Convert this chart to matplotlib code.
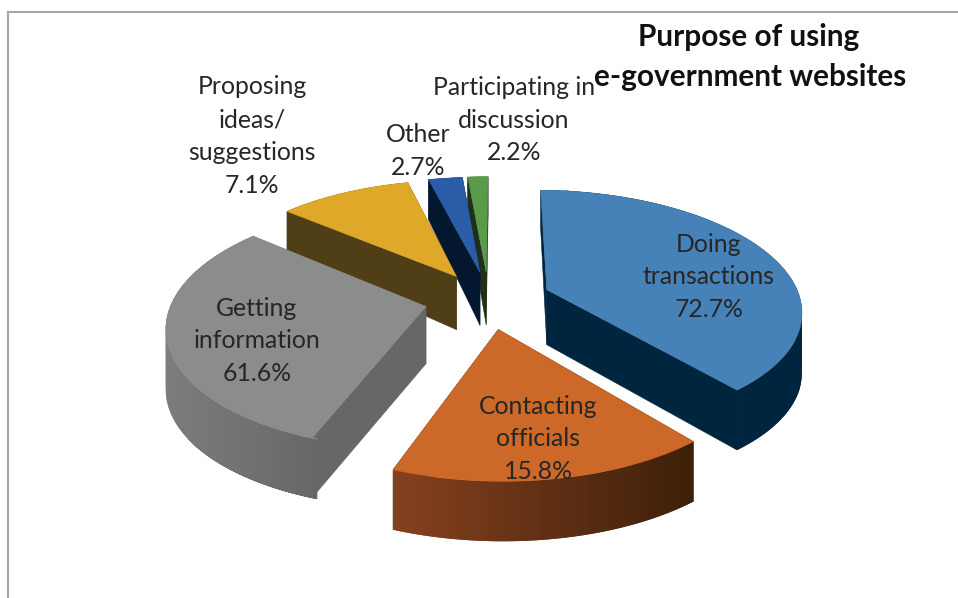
import numpy as np
import matplotlib
matplotlib.use('Agg')
import matplotlib.pyplot as plt
from matplotlib.colors import to_rgb

plt.rcParams['font.family'] = ['Lato', 'DejaVu Sans']

labels = ['Doing\ntransactions', 'Contacting\nofficials', 'Getting\ninformation',
          'Proposing\nideas/\nsuggestions', 'Other', 'Participating in\ndiscussion']
values = [72.7, 15.8, 61.6, 7.1, 2.7, 2.2]
title_lines = ['Purpose of using', 'e-government websites']

# slice colours: top face, wall, rim at its left end, rim at its right end
top_colors = ['#4682b8', '#cc6828', '#8c8c8c', '#dfa828', '#2a5ca8', '#5a9a48']
wall_colors = ['#00253e', '#3d2009', '#666866', '#4f3e16', '#03182f', '#1f2f18']
rim_left = ['#00253e', '#86411f', '#7d7d7d', '#4f3e16', '#03182f', '#1f2f18']
rim_right = ['#00253e', '#3d2009', '#666866', '#4f3e16', '#03182f', '#1f2f18']

# centre of each text block in pixels
label_pos = [(709, 277), (538, 439), (257, 341), (252, 136), (418, 151), (514, 120)]

# view of the tilted pie: plane to screen transform, how far each slice is pulled out,
# and the sweep correction of the 3D view
view = [258.1772, -34.06559, 462.75876, -28.33188, -64.47232, 289.68861, 0.06143, 0.14019]
pull = [(0.30754, -0.13519), (-0.0069, -0.35695), (-0.18849, -0.07403),
        (0.02284, 0.11814), (0.12505, 0.11241), (0.15031, 0.10697)]
sweep = [0.22069, -0.22696, 0.19902, 0.32112, -0.22406, 0.33597]


def project(x, y):
    a, b, c, d, e, f, g, h = view
    w = g * x + h * y + 1
    # the slab looks thinner towards the back
    depth = np.clip(55 - 100 * (w - 1), 40, 60)
    return (a * x + b * y + c) / w, (d * x + e * y + f) / w, depth


def correct(t):
    s = sweep
    return (t + s[0] * np.sin(t) + s[1] * np.cos(t) + s[2] * np.sin(2 * t)
            + s[3] * np.cos(2 * t) + s[4] * np.sin(3 * t) + s[5] * np.cos(3 * t))


def blend(c1, c2, k):
    return tuple((1 - k) * np.array(to_rgb(c1)) + k * np.array(to_rgb(c2)))


fig = plt.figure(figsize=(9.58, 5.98), dpi=100)
ax = fig.add_axes([0, 0, 1, 1])
ax.set_xlim(0, 958)
ax.set_ylim(598, 0)
ax.axis('off')

# chart frame, only left and top are inside the crop
ax.plot([8, 8, 958], [598, 12, 12], color='#a6a6a6', lw=1.5, solid_joinstyle='miter')

edges = np.cumsum([0] + values) / sum(values) * 2 * np.pi

# back slices first so the front ones cover them
for i in [5, 4, 3, 0, 2, 1]:
    t = correct(np.linspace(edges[i], edges[i + 1], 120))
    px, py = pull[i]
    u, v, d = project(px + np.sin(t), py + np.cos(t))
    u0, v0, d0 = project(px, py)

    for k in [0, -1]:
        ax.fill([u0, u[k], u[k], u0], [v0, v[k], v[k] + d[k], v0 + d0],
                color=wall_colors[i], lw=0.4, joinstyle='round')

    # rim strips overlap by one step so no seams show between them
    left, right = u.min(), u.max()
    for k in range(len(u) - 1):
        j = min(k + 2, len(u) - 1)
        c = blend(rim_left[i], rim_right[i], (u[k] - left) / (right - left))
        ax.fill(np.r_[u[k:j + 1], u[k:j + 1][::-1]],
                np.r_[v[k:j + 1], (v + d)[k:j + 1][::-1]], color=c, lw=0)

    ax.fill(np.r_[u0, u], np.r_[v0, v], color=top_colors[i], lw=0.4, joinstyle='round')

for name, val, (x, y) in zip(labels, values, label_pos):
    ax.text(x, y, f'{name}\n{val}%', ha='center', va='center', fontsize=17.8,
            color='#262626', linespacing=1.51)

ax.text(749, 37, title_lines[0], ha='center', va='center', fontsize=21.4,
        fontweight='bold', color='#111111')
ax.text(750, 77, title_lines[1], ha='center', va='center', fontsize=21.4,
        fontweight='bold', color='#111111')

fig.savefig('out.png', dpi=100)
